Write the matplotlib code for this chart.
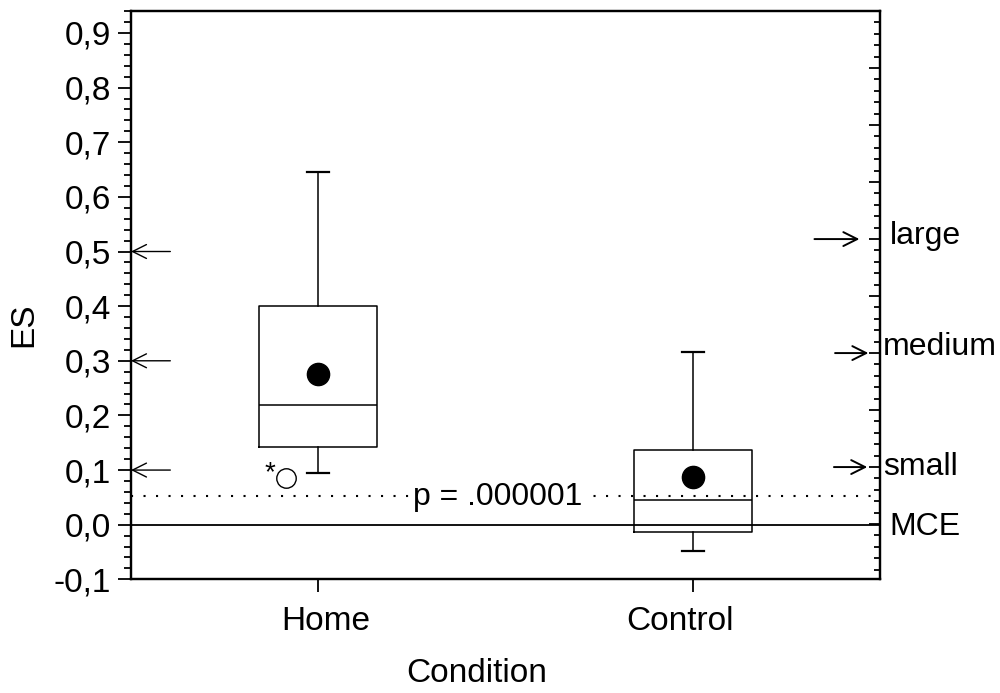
import matplotlib
matplotlib.use('Agg')
import matplotlib.pyplot as plt
from matplotlib.ticker import MultipleLocator, FuncFormatter, FixedLocator, FixedFormatter, NullFormatter

# --- data ---
conditions = ['Home', 'Control']
q1 = [0.143, -0.013]
medians = [0.219, 0.045]
q3 = [0.400, 0.137]
whisk_lo = [0.095, -0.049]
whisk_hi = [0.645, 0.316]
means = [0.276, 0.087]
outlier_value = 0.085          # open circle next to Home box
p_line = 0.052                 # dotted significance line
p_text = 'p = .000001'

left_marks = [0.5, 0.3, 0.1]   # arrows on left (ES scale)
right_marks = [5, 3, 1]        # arrows on right (secondary scale)
right_labels = ['large', 'medium', 'small', 'MCE']
right_label_y = [5.05, 3.1, 1.0, -0.05]

plt.rcParams['font.family'] = ['Liberation Sans', 'DejaVu Sans']
FS = 24

fig = plt.figure(figsize=(10, 6.93), dpi=100)
ax = fig.add_axes([0.131, 0.164, 0.749, 0.820])

positions = [1, 2]
stats = []
for i, name in enumerate(conditions):
    stats.append(dict(label=name, med=medians[i], q1=q1[i], q3=q3[i],
                      whislo=whisk_lo[i], whishi=whisk_hi[i],
                      mean=means[i], fliers=[]))

lp = dict(color='black', linewidth=1.1)
ax.bxp(stats, positions=positions, widths=0.315, capwidths=0.06,
       showmeans=True, showfliers=False,
       boxprops=lp, whiskerprops=lp, capprops=dict(color='black', linewidth=1.6),
       medianprops=lp,
       meanprops=dict(marker='o', markerfacecolor='black',
                      markeredgecolor='black', markersize=16))

# outlier of Home, drawn slightly left of the box centre
ax.plot(positions[0] - 0.085, outlier_value, marker='o', markersize=14,
        markerfacecolor='white', markeredgecolor='black', markeredgewidth=1,
        linestyle='none')
ax.text(positions[0] - 0.13, outlier_value + 0.01, '*', fontsize=20,
        ha='center', va='center')

# reference lines
ax.axhline(0.0, color='black', linewidth=1.3)
ax.axhline(p_line, color='black', linewidth=1.5, linestyle=(0, (1, 5)))
ax.text(1.48, p_line - 0.002, p_text, fontsize=23, ha='center', va='center',
        bbox=dict(facecolor='white', edgecolor='none', pad=3))

ax.set_xlim(0.5, 2.5)
ax.set_ylim(-0.1, 0.94)
# tick marks at the boxes; the labels in the original sit a little off them,
# so they ride on zero-length minor ticks
ax.xaxis.set_major_locator(FixedLocator(positions))
ax.xaxis.set_major_formatter(NullFormatter())
label_shift = [0.019, -0.033]
ax.xaxis.set_minor_locator(FixedLocator([p + d for p, d in zip(positions, label_shift)]))
ax.xaxis.set_minor_formatter(FixedFormatter(conditions))
ax.tick_params(axis='x', which='major', direction='out', length=9, width=1.3)
ax.tick_params(axis='x', which='minor', length=0, labelsize=FS, pad=19)

ax.yaxis.set_major_locator(MultipleLocator(0.1))
ax.yaxis.set_minor_locator(MultipleLocator(0.02))
ax.yaxis.set_major_formatter(FuncFormatter(lambda v, p: f'{v:.1f}'.replace('.', ',')))
ax.tick_params(axis='y', which='major', direction='out', length=9.5,
               width=1.3, labelsize=FS, pad=5)
ax.tick_params(axis='y', which='minor', direction='out', length=5, width=1.3)
ax.set_xlabel('Condition', fontsize=FS)
ax.set_ylabel('ES', fontsize=FS)
ax.xaxis.set_label_coords(0.462, -0.138)
ax.yaxis.set_label_coords(-0.122, 0.4475)
for s in ax.spines.values():
    s.set_linewidth(1.6)

# left arrows pointing at the ES axis
for y in left_marks:
    ax.annotate('', xy=(0.5, y), xytext=(0.605, y),
                arrowprops=dict(arrowstyle='->,head_length=0.5,head_width=0.25',
                                color='black', lw=1,
                                mutation_scale=20, shrinkA=0, shrinkB=0))

# secondary (right) scale
ax2 = ax.twinx()
ax2.set_ylim(-0.97, 9.0)
ax2.yaxis.set_major_locator(MultipleLocator(1))
ax2.yaxis.set_minor_locator(MultipleLocator(0.2))
ax2.tick_params(axis='y', which='major', direction='in', length=8, width=1.3,
                labelright=False)
ax2.tick_params(axis='y', which='minor', direction='in', length=4.5, width=1.3)
for s in ax2.spines.values():
    s.set_linewidth(1.6)

arrow_x = [(2.325, 2.445), (2.38, 2.469), (2.377, 2.466)]
for (x0, x1), y in zip(arrow_x, right_marks):
    ax2.annotate('', xy=(x1, y), xytext=(x0, y),
                 arrowprops=dict(arrowstyle='->,head_length=0.5,head_width=0.25',
                                 color='black', lw=1.4,
                                 mutation_scale=20, shrinkA=0, shrinkB=0))

label_x = [1.013, 1.004, 1.004, 1.013]
for lab, x, y in zip(right_labels, label_x, right_label_y):
    ax2.text(x, y, lab, transform=ax2.get_yaxis_transform(), fontsize=23,
             ha='left', va='center', clip_on=False)

fig.savefig('out.png', dpi=100)
